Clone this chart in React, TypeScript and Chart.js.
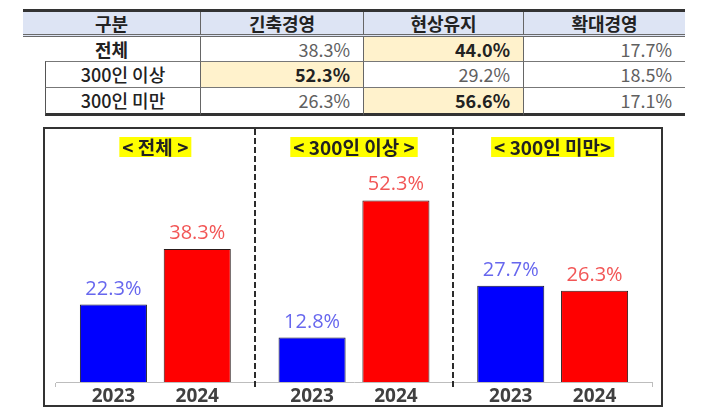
import React, { useEffect, useRef } from 'react';
import { Chart, registerables } from 'chart.js';

Chart.register(...registerables);

// ---- table data ----
const tableHeaders = ['구분', '긴축경영', '현상유지', '확대경영'];
const tableRows = ['전체', '300인 이상', '300인 미만'];
const tightValues = [38.3, 52.3, 26.3];
const maintainValues = [44.0, 29.2, 56.6];
const expandValues = [17.7, 18.5, 17.1];

// ---- chart data ----
const groupTitles = ['< 전체 >', '< 300인 이상 >', '< 300인 미만>'];
const yearLabels = ['2023', '2024'];
const values2023 = [22.3, 12.8, 27.7];
const values2024 = [38.3, 52.3, 26.3];

const barColors = ['#0000ff', '#ff0000'];
const labelColors = ['#6767ee', '#f25656'];

const colWidths = [177, 163, 160, 162];

const overlayPlugin = {
  id: 'overlay',
  afterDatasetsDraw(chart: any) {
    const ctx = chart.ctx as CanvasRenderingContext2D;
    const x = chart.scales.x;
    const area = chart.chartArea;
    ctx.save();
    // dashed separators between groups
    ctx.strokeStyle = '#2b2b2b';
    ctx.lineWidth = 2;
    ctx.setLineDash([6, 3]);
    for (let i = 0; i < groupTitles.length - 1; i++) {
      const px = Math.round((x.getPixelForValue(i) + x.getPixelForValue(i + 1)) / 2);
      ctx.beginPath();
      ctx.moveTo(px, 0);
      ctx.lineTo(px, area.bottom + 5);
      ctx.stroke();
    }
    ctx.setLineDash([]);
    // group titles with yellow highlight
    ctx.font = 'bold 19px "Noto Sans CJK KR"';
    ctx.textAlign = 'center';
    ctx.textBaseline = 'middle';
    groupTitles.forEach((t, i) => {
      const cx = x.getPixelForValue(i);
      const w = ctx.measureText(t).width + 6;
      ctx.fillStyle = '#ffff00';
      ctx.fillRect(cx - w / 2, 8, w, 20);
      ctx.fillStyle = '#222222';
      ctx.fillText(t, cx, 18.5);
    });
    // value labels and year labels
    chart.data.datasets.forEach((ds: any, di: number) => {
      const meta = chart.getDatasetMeta(di);
      meta.data.forEach((bar: any, i: number) => {
        ctx.font = '20px "Open Sans"';
        ctx.fillStyle = labelColors[di];
        ctx.textBaseline = 'alphabetic';
        ctx.fillText(`${Number(ds.data[i]).toFixed(1)}%`, bar.x, bar.y - 10);
        ctx.font = 'bold 19px "Open Sans"';
        ctx.fillStyle = '#404040';
        ctx.textBaseline = 'middle';
        ctx.fillText(ds.label, bar.x, area.bottom + 15);
      });
    });
    ctx.restore();
  },
};

function BarChart() {
  const ref = useRef<HTMLCanvasElement>(null);
  useEffect(() => {
    if (!ref.current) return;
    const chart = new Chart(ref.current, {
      type: 'bar',
      data: {
        labels: groupTitles,
        datasets: [
          {
            label: yearLabels[0],
            data: values2023,
            backgroundColor: barColors[0],
            borderColor: '#1a1a2a',
            borderWidth: 1,
            categoryPercentage: 0.844,
            barPercentage: 0.8,
          },
          {
            label: yearLabels[1],
            data: values2024,
            backgroundColor: barColors[1],
            borderColor: '#2a1a1a',
            borderWidth: 1,
            categoryPercentage: 0.844,
            barPercentage: 0.8,
          },
        ],
      },
      options: {
        animation: false,
        responsive: false,
        maintainAspectRatio: false,
        devicePixelRatio: 1,
        layout: { padding: { left: 11, right: 9, top: 10, bottom: 18 } },
        plugins: {
          legend: { display: false },
          tooltip: { enabled: false },
          title: { display: false },
        },
        scales: {
          x: {
            type: 'category',
            offset: true,
            grid: {
              display: true,
              drawOnChartArea: false,
              drawTicks: true,
              tickLength: 5,
              color: '#bdbdbd',
              offset: true,
            },
            border: { display: true, color: '#bdbdbd', width: 1 },
            ticks: { display: false },
          },
          y: {
            display: false,
            min: 0,
            max: 70,
          },
        },
      },
      plugins: [overlayPlugin],
    });
    return () => chart.destroy();
  }, []);
  return <canvas ref={ref} width={616} height={276} style={{ display: 'block' }} />;
}

function DataTable() {
  const rowValues = tableRows.map((_, r) => [tightValues[r], maintainValues[r], expandValues[r]]);
  const font = '"Noto Sans CJK KR", "Noto Sans", sans-serif';
  const rowHeights = [24, 25, 25];
  return (
    <div style={{ position: 'absolute', left: 23, top: 9, width: 662, fontFamily: font }}>
      {/* header */}
      <div
        style={{
          display: 'flex',
          height: 22,
          background: '#dde4f4',
          borderTop: '3px solid #333',
          borderBottom: '3px double #6a6a6a',
        }}
      >
        {tableHeaders.map((h, i) => (
          <div
            key={h}
            style={{
              width: colWidths[i],
              boxSizing: 'border-box',
              borderLeft: i > 0 ? '1px solid #666' : 'none',
              textAlign: 'center',
              fontSize: 18,
              fontWeight: 700,
              color: '#222',
              lineHeight: '22px',
            }}
          >
            {h}
          </div>
        ))}
      </div>
      {tableRows.map((label, r) => {
        const vals = rowValues[r];
        const maxV = Math.max(...vals);
        const last = r === tableRows.length - 1;
        const topBorder = r > 0 ? '1px solid #777' : 'none';
        const bottomBorder = last ? '3px solid #333' : 'none';
        const indent = r > 0;
        return (
          <div key={label} style={{ display: 'flex', height: rowHeights[r] + (r > 0 ? 1 : 0) + (last ? 3 : 0) }}>
            <div style={{ width: colWidths[0], boxSizing: 'border-box', position: 'relative' }}>
              <div
                style={{
                  position: 'absolute',
                  left: indent ? 22 : 0,
                  right: 0,
                  top: 0,
                  bottom: 0,
                  borderLeft: indent ? '1px solid #555' : 'none',
                  borderTop: topBorder,
                  borderBottom: bottomBorder,
                  textAlign: 'center',
                  fontSize: 18,
                  fontWeight: r === 0 ? 700 : 500,
                  color: '#222',
                  lineHeight: `${rowHeights[r]}px`,
                  whiteSpace: 'pre',
                }}
              >
                {label}
              </div>
            </div>
            {vals.map((v, c) => {
              const hi = v === maxV;
              return (
                <div
                  key={c}
                  style={{
                    width: colWidths[c + 1],
                    boxSizing: 'border-box',
                    borderLeft: '1px solid #666',
                    borderTop: topBorder,
                    borderBottom: bottomBorder,
                    background: hi ? '#fff2cc' : '#fff',
                    textAlign: 'right',
                    paddingRight: 13,
                    fontSize: 18,
                    fontWeight: hi ? 700 : 400,
                    color: hi ? '#222' : '#606060',
                    lineHeight: `${rowHeights[r]}px`,
                  }}
                >
                  {v.toFixed(1)}%
                </div>
              );
            })}
          </div>
        );
      })}
    </div>
  );
}

export default function App() {
  return (
    <div style={{ position: 'absolute', left: 0, top: 0, width: 710, height: 414, background: '#fff' }}>
      <DataTable />
      <div
        style={{
          position: 'absolute',
          left: 43,
          top: 127,
          width: 620,
          height: 280,
          boxSizing: 'border-box',
          border: '2px solid #333',
        }}
      >
        <BarChart />
      </div>
    </div>
  );
}
